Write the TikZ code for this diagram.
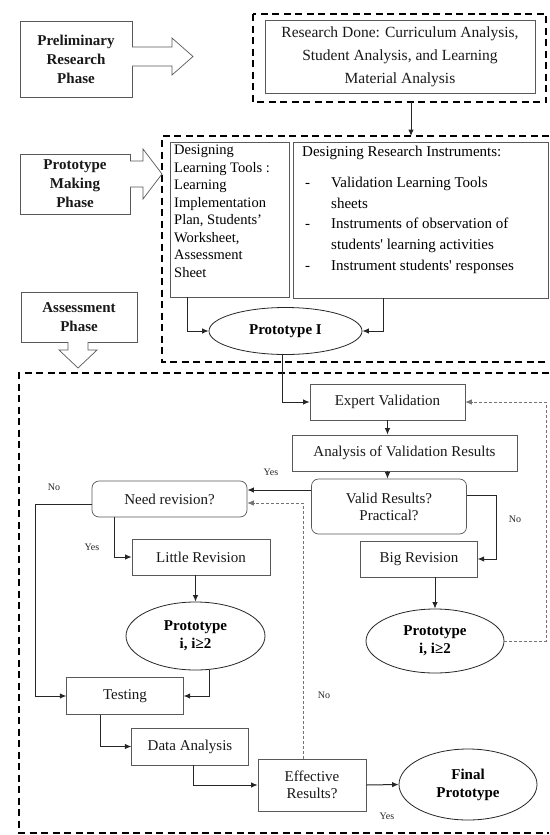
\documentclass[tikz,border=0pt]{standalone}
\usepackage{fontspec}
\setmainfont{Liberation Serif}
\usetikzlibrary{shapes.geometric,arrows.meta,calc}
\begin{document}
\begin{tikzpicture}[x=1pt,y=-1pt,
 box/.style={draw=black!65,line width=0.7pt,inner sep=0pt,align=center,text=black!90,font=\fontsize{15}{17}\selectfont},
 rbox/.style={box,rounded corners=7pt},
 ell/.style={draw=black!85,line width=0.8pt,ellipse,inner sep=0pt,align=center,font=\bfseries\fontsize{15}{18}\selectfont},
 phase/.style={box,font=\bfseries\fontsize{15}{19}\selectfont},
 zone/.style={draw=black,line width=1.7pt,dash pattern=on 7pt off 4.5pt},
 arr/.style={draw=black!85,line width=1pt,-{Latex[length=6.5pt,width=5.5pt]}},
 darr/.style={draw=black!55,line width=0.7pt,dash pattern=on 3pt off 2pt,-{Latex[length=6.5pt,width=5.5pt]}},
 lbl/.style={font=\fontsize{10}{11}\selectfont,inner sep=0pt,text=black!85},
 blk/.style={draw=black!65,line width=0.7pt,fill=white,line join=miter}
]
\fill[white] (0,0) rectangle (549,835);
\useasboundingbox (0,0) rectangle (549,835);

% zones
\draw[zone] (253,14) rectangle (546,102);
\draw[zone] (549,136) -- (162,136) -- (162,362) -- (549,362);
\draw[zone] (549,373) -- (19,373) -- (19,833) -- (549,833);

% phase labels
\node[phase,minimum width=112pt,minimum height=76pt] (prelim) at (76,59) {Preliminary\\Research\\Phase};
\node[phase,minimum width=110pt,minimum height=60pt] (protomake) at (75,184) {Prototype\\Making\\Phase};
\node[phase,minimum width=116pt,minimum height=50pt] (assess) at (79,317) {Assessment\\Phase};

% block arrows
\draw[blk] (132,47) -- (172,47) -- (172,38) -- (193,56.5) -- (172,75) -- (172,66) -- (132,66);
\draw[blk] (130,161) -- (143,161) -- (143,149) -- (162,174) -- (143,199) -- (143,187) -- (130,187);
\draw[blk] (68,342) -- (68,350) -- (59,350) -- (78,368) -- (97,350) -- (88,350) -- (88,342);

% top boxes
\node[box,minimum width=270pt,minimum height=73pt,font=\fontsize{15.5}{23}\selectfont] (research) at (400,56.5) {Research Done: Curriculum Analysis,\\Student Analysis, and Learning\\Material Analysis};
\node[box,minimum width=119pt,minimum height=155pt] (lt) at (229.5,219.5) {};
\node[anchor=north west,inner sep=0pt,align=left,font=\fontsize{14.5}{17.5}\selectfont] (lttext) at (174,145) {Designing\\Learning Tools :\\Learning\\Implementation\\Plan, Students’\\Worksheet,\\Assessment\\Sheet};
\node[box,minimum width=255pt,minimum height=156pt] (ri) at (420.5,220) {};
\node[anchor=north west,inner sep=0pt,align=left,font=\fontsize{15}{20.7}\selectfont] (ritext) at (302,146) {Designing Research Instruments:\\[10pt]
\makebox[29pt][l]{\hspace{3pt}-}Validation Learning Tools\\
\hspace*{29pt}sheets\\
\makebox[29pt][l]{\hspace{3pt}-}Instruments of observation of\\
\hspace*{29pt}students\textquotesingle{} learning activities\\
\makebox[29pt][l]{\hspace{3pt}-}Instrument students\textquotesingle{} responses};
\node[ell,minimum width=153pt,minimum height=47pt] (proto1) at (285.5,331) {Prototype I};

% assessment flow
\node[box,minimum width=155pt,minimum height=36pt] (expert) at (387.5,402) {Expert Validation};
\node[box,minimum width=225pt,minimum height=36pt] (analysis) at (404.5,453) {Analysis of Validation Results};
\node[rbox,minimum width=155pt,minimum height=55pt] (valid) at (389,506.5) {Valid Results?\\Practical?};
\node[rbox,minimum width=155pt,minimum height=36pt] (need) at (169.5,499) {Need revision?};
\node[box,minimum width=138pt,minimum height=36pt] (little) at (201,557) {Little Revision};
\node[box,minimum width=116.5pt,minimum height=36pt] (big) at (419,559) {Big Revision};
\node[ell,minimum width=139pt,minimum height=68pt] (p2L) at (195.5,636) {Prototype\\i, i≥2};
\node[ell,minimum width=138pt,minimum height=64pt] (p2R) at (435,641) {Prototype\\i, i≥2};
\node[box,minimum width=116.5pt,minimum height=36.5pt] (testing) at (125,696) {Testing};
\node[box,minimum width=116.5pt,minimum height=37pt] (data) at (190,746.5) {Data Analysis};
\node[box,minimum width=108pt,minimum height=52pt] (effective) at (312,785) {Effective\\Results?};
\node[ell,minimum width=138pt,minimum height=71pt] (final) at (468,784.5) {Final\\Prototype};

% helper coordinates
\coordinate (z1b) at (411,102);
\coordinate (z2t) at (411,136);
\coordinate (yA) at (0,490);
\coordinate (yB) at (0,503);
\coordinate (yC) at (0,504);
\coordinate (yD) at (0,495);
\coordinate (xL) at (35,0);
\coordinate (xR) at (496,0);
\coordinate (xN) at (114,0);
\coordinate (xT) at (209,0);
\coordinate (xD) at (100,0);
\coordinate (xE) at (193,0);
\coordinate (xF) at (303,0);
\coordinate (xG) at (546,0);
\coordinate (xP) at (282,0);

% connectors
\draw[arr] (z1b) -- (z2t);
\draw[arr] ($(lt.south west)+(18,0)$) |- (proto1.west);
\draw[arr] ($(ri.south west)+(91,0)$) |- (proto1.east);
\draw[arr] (proto1.south -| xP) |- (expert.west);
\draw[arr] (expert.south) -- (analysis.north -| expert.south);
\draw[arr] (analysis.south -| expert.south) -- (valid.north -| expert.south);
\draw[arr] (valid.west |- yA) -- (need.east |- yA);
\draw[arr] (need.west |- yC) -- (xL |- yC) -- (xL |- testing.west) -- (testing.west);
\draw[arr] (valid.east |- yD) -- (xR |- yD) -- (xR |- big.east) -- (big.east);
\draw[arr] (need.south -| xN) -- (xN |- little.west) -- (little.west);
\draw[arr] (little.south -| p2L.north) -- (p2L.north);
\draw[arr] (big.south -| p2R.north) -- (p2R.north);
\draw[arr] (p2L.south -| xT) -- (xT |- testing.east) -- (testing.east);
\draw[arr] (testing.south -| xD) -- (xD |- data.west) -- (data.west);
\draw[arr] (data.south -| xE) -- (xE |- effective.west) -- (effective.west);
\draw[arr] (effective.east) -- (final.west);
\draw[darr] (effective.north -| xF) -- (xF |- yB) -- (need.east |- yB);
\draw[darr] (p2R.east) -- (xG |- p2R.east) -- (xG |- expert.east) -- (expert.east);

% labels
\node[lbl] (lyes1) at (271,472) {Yes};
\node[lbl] (lno1) at (54,487) {No};
\node[lbl] (lyes2) at (92,547) {Yes};
\node[lbl] (lno2) at (515,519) {No};
\node[lbl] (lno3) at (324,695) {No};
\node[lbl] (lyes3) at (387,816) {Yes};
\end{tikzpicture}
\end{document}
